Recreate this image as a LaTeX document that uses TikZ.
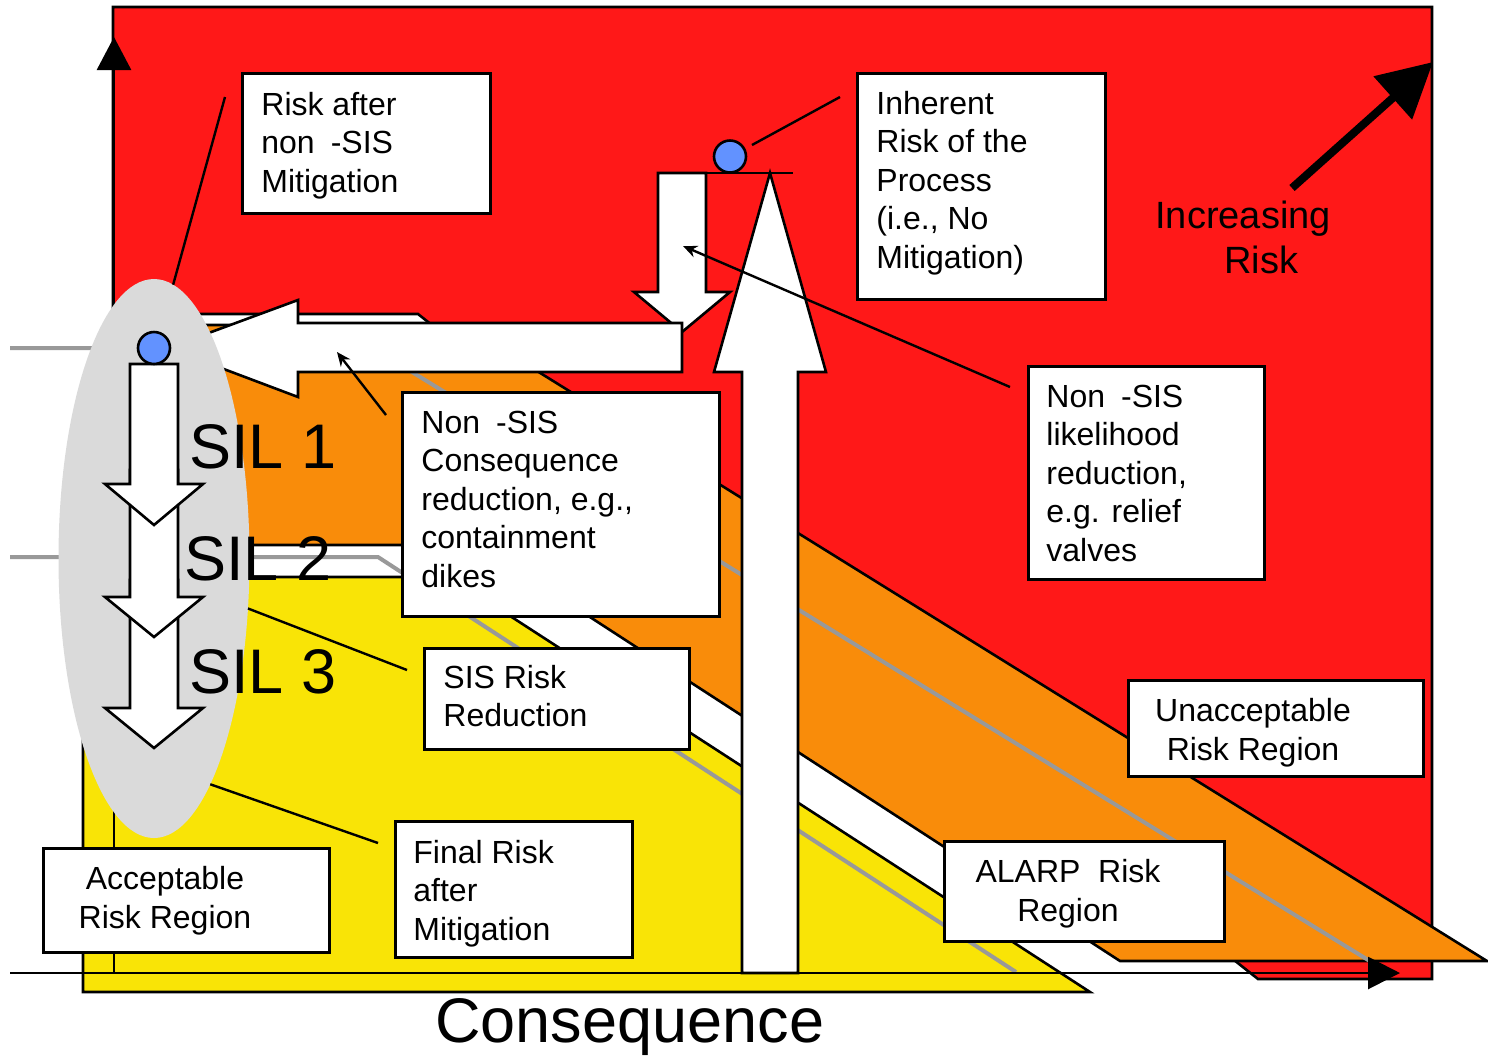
\documentclass[tikz,border=0pt]{standalone}
\usepackage{fontspec}
\setmainfont{Liberation Sans}
\usetikzlibrary{arrows.meta,shapes.geometric}

\definecolor{riskred}{RGB}{255,24,24}
\definecolor{riskorange}{RGB}{249,140,10}
\definecolor{riskyellow}{RGB}{249,228,6}
\definecolor{ellgray}{RGB}{218,218,218}
\definecolor{dotblue}{RGB}{98,146,255}
\definecolor{guide}{RGB}{153,153,153}

\begin{document}
\begin{tikzpicture}[x=0.5pt,y=-0.5pt,
  region/.style={draw=black, line width=1.3pt, line join=miter},
  bigarrow/.style={draw=black, fill=white, line width=1.3pt, line join=miter},
  guideline/.style={draw=guide, line width=2pt},
  axisline/.style={draw=black, line width=1.4pt},
  plainline/.style={draw=black, line width=1.3pt},
  box/.style={rectangle, draw=black, fill=white, line width=1.3pt, inner sep=0pt, anchor=north west},
  % multi-line texts are placed by the baseline of their last line
  boxtext/.style={inner sep=0pt, align=left, anchor=base west, font=\fontsize{16pt}{19.25pt}\selectfont},
  ctrtext/.style={inner sep=0pt, align=center, anchor=base, font=\fontsize{16pt}{19.25pt}\selectfont},
  leader/.style={draw=black, line width=1.2pt},
  pointer/.style={leader, -{Stealth[length=7pt,width=6pt]}},
  sillabel/.style={inner sep=0pt, anchor=base west, font=\fontsize{31.5pt}{36pt}\selectfont},
  dot/.style={circle, draw=black, fill=dotblue, line width=1.3pt, inner sep=0pt, minimum size=16pt}
]
\useasboundingbox (0,0) rectangle (1488,1057);

% risk regions, back to front
\path[region, fill=riskred] (113,7) -- (1432,7) -- (1432,979) -- (1258,979) -- (418,314) -- (113,314) -- cycle;
\path[region, fill=riskorange] (113,325) -- (463,325) -- (1487,961) -- (1120,961) -- (479,545) -- (113,545) -- cycle;
\path[region, fill=riskyellow] (83,577) -- (450,577) -- (1090,992) -- (83,992) -- cycle;

% tolerability thresholds
\draw[guideline] (10,348) -- (373,348) -- (1373,963);
\draw[guideline] (10,557) -- (378,557) -- (1016,972);

% axes
\draw[axisline, -{Triangle[length=16pt,width=16pt]}] (10,973) -- (1400,973);
\draw[axisline, -{Triangle[length=16.5pt,width=17pt]}] (114,973) -- (114,37);

% non-SIS mitigation arrows and the unmitigated risk arrow
\path[bigarrow] (658,173) -- (706,173) -- (706,292) -- (730,292) -- (682,332) -- (634,292) -- (658,292) -- cycle;
\path[bigarrow] (682,323) -- (298,323) -- (298,300) -- (168,348) -- (298,397) -- (298,372) -- (682,372) -- cycle;
\path[bigarrow] (770,173) -- (826,372) -- (798,372) -- (798,973) -- (742,973) -- (742,372) -- (714,372) -- cycle;
\draw[plainline] (658,173) -- (793,173);

% SIS risk reduction zone
\node[ellipse, fill=ellgray, minimum width=95.5pt, minimum height=279.5pt, inner sep=0pt, outer sep=0pt] (silzone) at (154,558.5) {};

% SIL steps, lowest first
\path[bigarrow] (130,580) -- (178,580) -- (178,708) -- (203,708) -- (154,748) -- (105,708) -- (130,708) -- cycle;
\path[bigarrow] (130,470) -- (178,470) -- (178,597) -- (203,597) -- (154,637) -- (105,597) -- (130,597) -- cycle;
\path[bigarrow] (130,364) -- (178,364) -- (178,484) -- (203,484) -- (154,525) -- (105,484) -- (130,484) -- cycle;

% risk points
\node[dot] (inherentdot) at (730,156.5) {};
\node[dot] (nonsisdot) at (154,348) {};

% SIL labels
\node[sillabel] (sil1) at (189,468) {SIL 1};
\node[sillabel] (sil2) at (184,580) {SIL 2};
\node[sillabel] (sil3) at (189,693) {SIL 3};

% callout boxes
\node[box, minimum width=124pt, minimum height=70pt] (afterbox) at (241,72) {};
\node[boxtext] (aftertext) at (261,192) {Risk after\\non\hspace{0.5em}-SIS\\Mitigation};

\node[box, minimum width=124pt, minimum height=113pt] (inhbox) at (856,72) {};
\node[boxtext] (inhtext) at (876,268) {Inherent\\Risk of the\\Process\\(i.e., No\\Mitigation)};

\node[box, minimum width=158.5pt, minimum height=112pt] (consbox) at (401,391) {};
\node[boxtext] (constext) at (421,587) {Non\hspace{0.5em}-SIS\\Consequence\\reduction, e.g.,\\containment\\dikes};

\node[box, minimum width=118pt, minimum height=106.5pt] (likebox) at (1027,365) {};
\node[boxtext] (liketext) at (1046,561) {Non\hspace{0.5em}-SIS\\likelihood\\reduction,\\e.g. relief\\valves};

\node[box, minimum width=132.5pt, minimum height=50.5pt] (sisbox) at (423,647) {};
\node[boxtext] (sistext) at (443,726.5) {SIS Risk\\Reduction};

\node[box, minimum width=147.5pt, minimum height=48pt] (unaccbox) at (1127,679) {};
\node[ctrtext] (unacctext) at (1253,760) {Unacceptable\\Risk Region};

\node[box, minimum width=140pt, minimum height=50pt] (alarpbox) at (943,840) {};
\node[ctrtext] (alarptext) at (1068,921) {ALARP\ \ Risk\\Region};

\node[box, minimum width=143pt, minimum height=52pt] (accbox) at (42,847) {};
\node[ctrtext] (acctext) at (165,928) {Acceptable\\Risk Region};

\node[box, minimum width=118.5pt, minimum height=68pt] (finalbox) at (394,820) {};
\node[boxtext] (finaltext) at (413,940) {Final Risk\\after\\Mitigation};

% callout leaders
\coordinate (afterlead) at (225,97);
\coordinate (inhleadA) at (840,97);
\coordinate (inhleadB) at (752,145);
\coordinate (conslead) at (386,415);
\coordinate (consaim) at (337,352);
\coordinate (likelead) at (1010,387);
\coordinate (likeaim) at (683,246);
\coordinate (sislead) at (407,670);
\coordinate (finallead) at (378,843);

\draw[leader] (afterlead) -- (silzone.86);
\draw[leader] (inhleadA) -- (inhleadB);
\draw[pointer] (conslead) -- (consaim);
\draw[pointer] (likelead) -- (likeaim);
\draw[leader] (silzone.-28) -- (sislead);
\draw[leader] (silzone.-76) -- (finallead);

% direction of increasing risk
\coordinate (incstart) at (1292,188);
\coordinate (incend) at (1433,62);
\draw[draw=black, line width=4pt, -{Triangle[length=27pt,width=28pt]}] (incstart) -- (incend);
\node[inner sep=0pt, align=left, anchor=base west, font=\fontsize{19pt}{22.5pt}\selectfont] (inctext) at (1155,273) {Increasing\\\hspace*{34.5pt}Risk};

% axis title
\node[inner sep=0pt, anchor=base west, font=\fontsize{31.5pt}{36pt}\selectfont] (constitle) at (435,1042) {Consequence};

\end{tikzpicture}
\end{document}
